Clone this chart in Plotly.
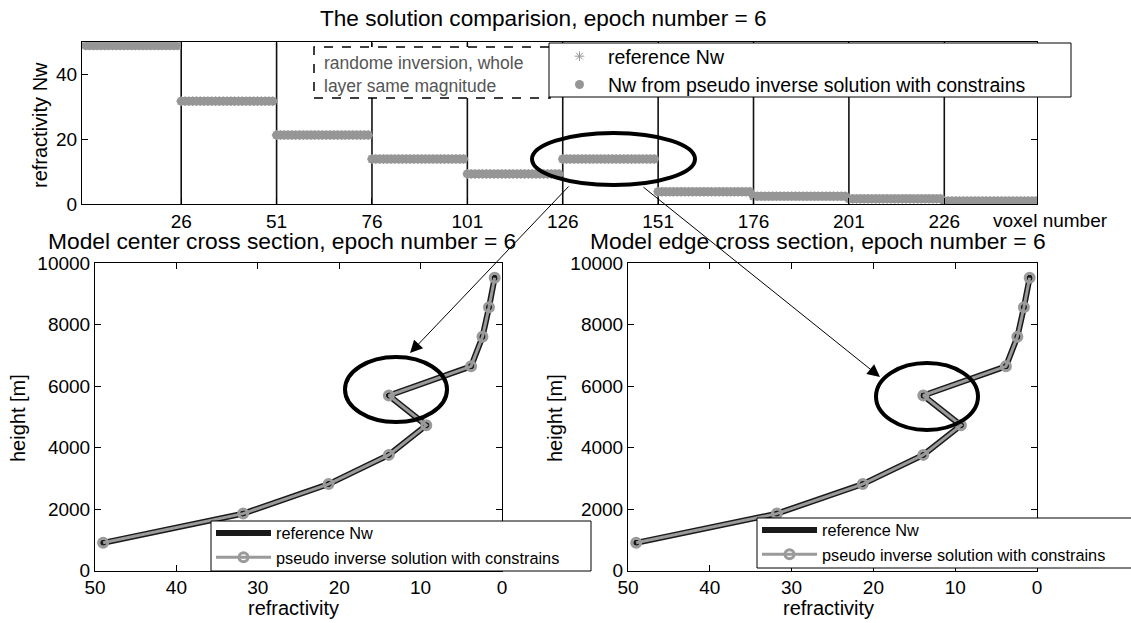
import numpy as np
import plotly.graph_objects as go

W, H = 1131, 623

# ---------------- data ----------------
layer_values = [49.0, 31.8, 21.3, 13.9, 9.3, 13.9, 3.8, 2.4, 1.6, 0.9]      # refractivity Nw per layer
layer_heights = [900, 1850, 2810, 3760, 4720, 5690, 6640, 7600, 8560, 9520]  # height [m]
voxels_per_layer = 25
voxel_tick_vals = [26, 51, 76, 101, 126, 151, 176, 201, 226]
nw_tick_vals = [0, 20, 40]
refr_tick_vals = [50, 40, 30, 20, 10, 0]
height_tick_vals = [0, 2000, 4000, 6000, 8000, 10000]

voxels = np.arange(1, len(layer_values) * voxels_per_layer + 1)
voxel_values = np.repeat(layer_values, voxels_per_layer)
layer_starts = [k * voxels_per_layer + 1 for k in range(1, len(layer_values))]

FONT = "Liberation Sans, Arial, Helvetica, sans-serif"
GRAY = "#969696"


def px(x):
    return x / W


def py(y):
    return 1 - y / H


fig = go.Figure()

# ---- top panel ----
vx, vy = [], []
for s in layer_starts:
    vx += [s, s, None]
    vy += [0, 50, None]
fig.add_trace(go.Scatter(x=vx, y=vy, mode="lines", line=dict(color="#111111", width=1.6),
                         showlegend=False, hoverinfo="skip", xaxis="x", yaxis="y"))
fig.add_trace(go.Scatter(x=voxels, y=voxel_values, mode="markers", name="reference Nw",
                         marker=dict(symbol="asterisk-open", size=8, color=GRAY, line=dict(color=GRAY, width=1)),
                         xaxis="x", yaxis="y", legend="legend"))
fig.add_trace(go.Scatter(x=voxels, y=voxel_values, mode="markers",
                         name="Nw from pseudo inverse solution with constrains",
                         marker=dict(symbol="circle", size=9, color=GRAY),
                         xaxis="x", yaxis="y", legend="legend"))

# ---- bottom panels ----
for xa, ya, lg in [("x2", "y2", "legend2"), ("x3", "y3", "legend3")]:
    fig.add_trace(go.Scatter(x=layer_values, y=layer_heights, mode="lines+markers", name="reference Nw",
                             line=dict(color="#1a1a1a", width=6),
                             marker=dict(symbol="circle", size=6, color="#1a1a1a"),
                             xaxis=xa, yaxis=ya, legend=lg))
    fig.add_trace(go.Scatter(x=layer_values, y=layer_heights, mode="lines+markers",
                             name="pseudo inverse solution with constrains",
                             line=dict(color="#9a9a9a", width=3),
                             marker=dict(symbol="circle-open", size=9, color="#9a9a9a",
                                         line=dict(color="#9a9a9a", width=3)),
                             xaxis=xa, yaxis=ya, legend=lg))

axis_common = dict(showline=True, linecolor="black", linewidth=1, mirror="ticks", ticks="inside",
                   ticklen=6, tickcolor="black", showgrid=False, zeroline=False, tickformat="d",
                   tickfont=dict(family=FONT, size=19, color="black"))

legend_common = dict(bgcolor="rgba(0,0,0,0)", borderwidth=0, xanchor="left", yanchor="top",
                     tracegroupgap=0)

fig.update_layout(
    width=W, height=H, margin=dict(l=0, r=0, t=0, b=0, autoexpand=False),
    paper_bgcolor="white", plot_bgcolor="white",
    font=dict(family=FONT, color="black"),
    xaxis=dict(domain=[px(82), px(1037)], range=[0, 250.3], tickvals=voxel_tick_vals, anchor="y", **axis_common),
    yaxis=dict(domain=[py(204), py(42.3)], range=[0, 50], tickvals=nw_tick_vals, anchor="x", **axis_common),
    xaxis2=dict(domain=[px(95), px(502)], range=[50, 0], tickvals=refr_tick_vals, anchor="y2", **axis_common),
    yaxis2=dict(domain=[py(570.5), py(263)], range=[0, 10000], tickvals=height_tick_vals, anchor="x2", **axis_common),
    xaxis3=dict(domain=[px(628), px(1037)], range=[50, 0], tickvals=refr_tick_vals, anchor="y3", **axis_common),
    yaxis3=dict(domain=[py(570.5), py(263)], range=[0, 10000], tickvals=height_tick_vals, anchor="x3", **axis_common),
    legend=dict(x=px(551), y=py(37), font=dict(family=FONT, size=19.5), itemwidth=47, **legend_common),
    legend2=dict(x=px(211), y=py(516), font=dict(family=FONT, size=16.3), itemwidth=55, **legend_common),
    legend3=dict(x=px(757), y=py(513), font=dict(family=FONT, size=16.3), itemwidth=55, **legend_common),
    showlegend=True,
)


def label(text, x, y, size, angle=0, color="black", xanchor="center"):
    fig.add_annotation(text=text, x=px(x), y=py(y), xref="paper", yref="paper", showarrow=False,
                       font=dict(family=FONT, size=size, color=color), textangle=angle,
                       xanchor=xanchor, yanchor="middle")


label("The solution comparision, epoch number = 6", 543, 18, 22.6)
label("Model center cross section, epoch number = 6", 282, 241, 22.8)
label("Model edge cross section, epoch number = 6", 818, 241, 22.8)
label("voxel number", 1050, 220, 19)
label("refractivity Nw", 40, 125, 20, angle=-90)
label("height [m]", 18, 418, 20, angle=-90)
label("height [m]", 555, 418, 20, angle=-90)
label("refractivity", 293, 608, 20)
label("refractivity", 828, 608, 20)

# dashed note box (white-filled, drawn above the layer lines)
fig.add_shape(type="rect", xref="paper", yref="paper", x0=px(314), x1=px(550), y0=py(98), y1=py(47),
              line=dict(color="black", width=1.5, dash="dash"), fillcolor="white", layer="above")
label("randome inversion, whole", 322, 63, 17.5, color="#555555", xanchor="left")
label("layer same magnitude", 322, 86, 17.5, color="#555555", xanchor="left")

# legend frames (white boxes behind the legend entries)
for (x0, y0, x1, y1) in [(549, 43, 1071, 97), (211, 521, 591, 571), (757, 518, 1145, 568)]:
    fig.add_shape(type="rect", xref="paper", yref="paper", x0=px(x0), x1=px(x1), y0=py(y1), y1=py(y0),
                  line=dict(color="black", width=1), fillcolor="white", layer="above")

# ellipses
for (x0, y0, x1, y1) in [(532, 133, 695, 185), (345, 357, 447, 422), (876, 363, 978, 430)]:
    fig.add_shape(type="circle", xref="paper", yref="paper", x0=px(x0), x1=px(x1), y0=py(y1), y1=py(y0),
                  line=dict(color="black", width=4), layer="above")

# arrows
for (hx, hy, tx, ty) in [(410, 353, 570, 185), (880, 377, 642, 186)]:
    fig.add_annotation(text="", x=px(hx), y=py(hy), xref="paper", yref="paper",
                       ax=tx - hx, ay=ty - hy, showarrow=True, arrowhead=2, arrowsize=2.5,
                       arrowwidth=1, arrowcolor="black", standoff=0)

fig.write_html("out.html")
